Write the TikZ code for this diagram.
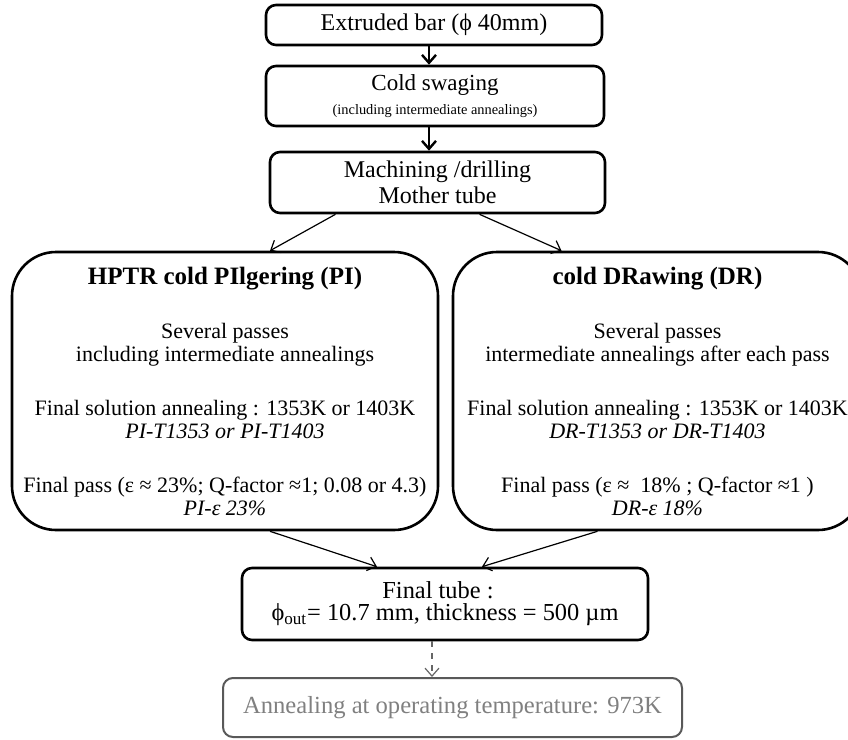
\documentclass[tikz,border=0pt]{standalone}
\usepackage{fontspec}
\setmainfont{Liberation Serif}
\usetikzlibrary{calc}
\usetikzlibrary{arrows.meta}
\tikzstyle{stepbox}=[draw, line width=1.3pt, rounded corners=5pt, align=center, inner sep=0pt]
\tikzstyle{routebox}=[draw, line width=1.3pt, rounded corners=22pt, align=center, inner sep=0pt, font=\fontsize{11}{11.5}\selectfont]
\tikzstyle{greybox}=[draw=black!65, line width=1pt, rounded corners=5pt, align=center, inner sep=0pt, text=black!50]
\tikzstyle{bigflow}=[line width=1.2pt, -{Straight Barb[length=4pt,width=7pt]}]
\tikzstyle{flow}=[line width=0.6pt, -{Straight Barb[length=4pt,width=7pt]}]
\tikzstyle{dashflow}=[black!60, line width=0.6pt, dashed, -{Straight Barb[length=4pt,width=7pt]}]
\newcommand{\routetitle}[1]{{\fontsize{12.5}{14}\selectfont\bfseries #1}}
\newcommand{\blockgap}{\\[15.5pt]}

\begin{document}
\begin{tikzpicture}[x=0.5pt,y=-0.5pt]
  \useasboundingbox (0,0) rectangle (848,740);
  \clip (0,0) rectangle (848,740);
  % main chain
  \node[stepbox, minimum width=168pt, minimum height=20pt, font=\fontsize{12}{13}\selectfont] (bar) at (434,25) {Extruded bar (ϕ 40mm)};
  \node[stepbox, minimum width=169pt, minimum height=30pt] (swag) at (435,96)
    {{\fontsize{11.5}{12}\selectfont Cold swaging}\\{\fontsize{7.2}{8}\selectfont (including intermediate annealings)}};
  \node[stepbox, minimum width=167.5pt, minimum height=30.5pt, font=\fontsize{12}{13}\selectfont] (mach) at (437.5,182.5)
    {Machining /drilling\\Mother tube};
  % the two routes
  \node[routebox, minimum width=213pt, minimum height=139pt] (pi) at (225,391)
    {\routetitle{HPTR cold PIlgering (PI)}\blockgap
     Several passes\\including intermediate annealings\blockgap
     Final solution annealing : 1353K or 1403K\\\textit{PI-T1353 or PI-T1403}\blockgap
     Final pass (ε ≈ 23\%; Q-factor ≈1; 0.08 or 4.3)\\\textit{PI-ε 23\%}};
  \node[routebox, minimum width=204.5pt, minimum height=139pt] (dr) at (657.5,391)
    {\routetitle{cold DRawing (DR)}\blockgap
     Several passes\\intermediate annealings after each pass\blockgap
     Final solution annealing : 1353K or 1403K\\\textit{DR-T1353 or DR-T1403}\blockgap
     Final pass (ε ≈~~18\% ; Q-factor ≈1 )\\\textit{DR-ε 18\%}};
  \node[stepbox, minimum width=203pt, minimum height=36pt, font=\fontsize{12.2}{11}\selectfont] (final) at (445,604)
    {Final tube :\hspace*{7pt}\\ϕ\textsubscript{out}= 10.7 mm, thickness = 500 µm};
  \node[greybox, minimum width=229.5pt, minimum height=29.5pt, font=\fontsize{12.3}{13}\selectfont] (anneal) at (452.5,707.5)
    {Annealing at operating temperature: 973K};
  % connectors
  \draw[bigflow] ([xshift=-2.5pt]bar.south) -- ([xshift=-2.5pt]bar.south |- swag.north);
  \draw[bigflow] ([xshift=-3pt]swag.south) -- ([xshift=-3pt]swag.south |- mach.north);
  \draw[flow] ([xshift=-51pt]mach.south) -- ([xshift=22.5pt]pi.north);
  \draw[flow] ([xshift=21pt]mach.south) -- ([xshift=-48pt]dr.north);
  \draw[flow] ([xshift=22.5pt]pi.south) -- ([xshift=-34pt]final.north);
  \draw[flow] ([xshift=-30pt]dr.south) -- ([xshift=18.5pt]final.north);
  \draw[dashflow] ([xshift=-6.5pt]final.south) -- ([xshift=-6.5pt]final.south |- anneal.north);
\end{tikzpicture}
\end{document}
